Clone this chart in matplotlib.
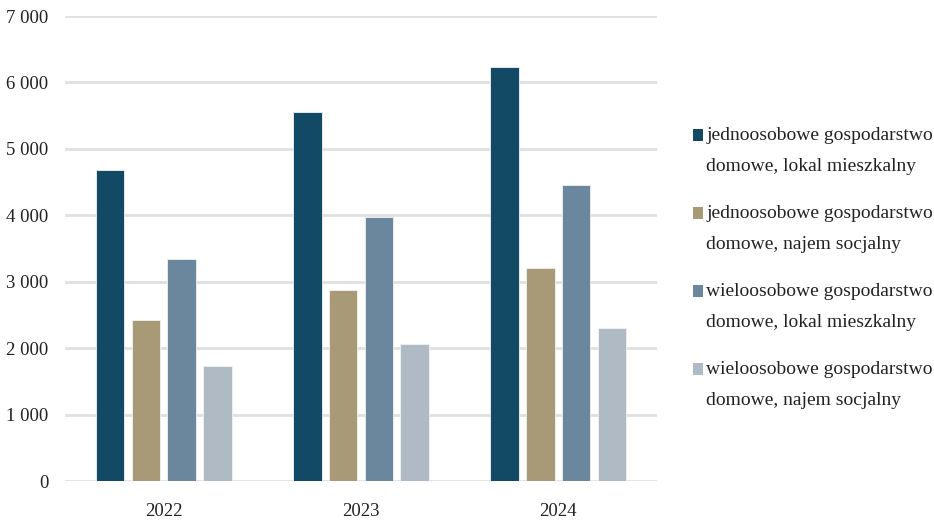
import matplotlib
matplotlib.use("Agg")
import matplotlib.pyplot as plt
from matplotlib.patches import Rectangle
import numpy as np

years = ["2022", "2023", "2024"]
series_labels = [
    "jednoosobowe gospodarstwo\ndomowe, lokal mieszkalny",
    "jednoosobowe gospodarstwo\ndomowe, najem socjalny",
    "wieloosobowe gospodarstwo\ndomowe, lokal mieszkalny",
    "wieloosobowe gospodarstwo\ndomowe, najem socjalny",
]
single_flat = [4675, 5560, 6230]
single_social = [2425, 2875, 3205]
multi_flat = [3345, 3975, 4450]
multi_social = [1735, 2065, 2310]
series_values = [single_flat, single_social, multi_flat, multi_social]
colors = ["#124a66", "#a89a76", "#6b879d", "#afbac5"]
yticks = [0, 1000, 2000, 3000, 4000, 5000, 6000, 7000]
ytick_labels = ["0", "1 000", "2 000", "3 000", "4 000", "5 000", "6 000", "7 000"]

plt.rcParams["font.family"] = ["Liberation Serif", "DejaVu Serif"]

fig = plt.figure(figsize=(9.34, 5.23), dpi=100)
ax = fig.add_axes([65 / 934, 42 / 523, 592 / 934, 465 / 523])

x = np.arange(len(years))
width = 0.145
pitch = 0.181
for i, (vals, c) in enumerate(zip(series_values, colors)):
    offset = (i - 1.5) * pitch
    ax.bar(x + offset, vals, width=width, color=c, edgecolor="#f2f2f2",
           linewidth=0.6, zorder=3)

ax.set_xlim(-0.5, len(years) - 0.5)
ax.set_ylim(0, 7000)
ax.set_yticks(yticks)
ax.set_yticklabels(ytick_labels)
ax.set_xticks(x)
ax.set_xticklabels(years)
ax.yaxis.grid(True, color="#e0e0e0", linewidth=2, zorder=0)
ax.set_axisbelow(True)
for s in ax.spines.values():
    s.set_visible(False)
ax.tick_params(axis="both", length=0, labelsize=13.5, colors="#222222")
ax.tick_params(axis="y", pad=12)
ax.tick_params(axis="x", pad=16)

# legend drawn at the right, square aligned with the first text line
top_y = [135, 213, 291, 369]
for lab, c, yy in zip(series_labels, colors, top_y):
    fig.patches.append(Rectangle((693 / 934, 1 - (yy + 6) / 523), 10 / 934, 12 / 523,
                                 transform=fig.transFigure, facecolor=c,
                                 edgecolor="none"))
    fig.text(706 / 934, 1 - (yy - 8) / 523, lab, fontsize=14, va="top",
             ha="left", color="#222222", linespacing=2.05)

fig.savefig("out.png", dpi=100)
